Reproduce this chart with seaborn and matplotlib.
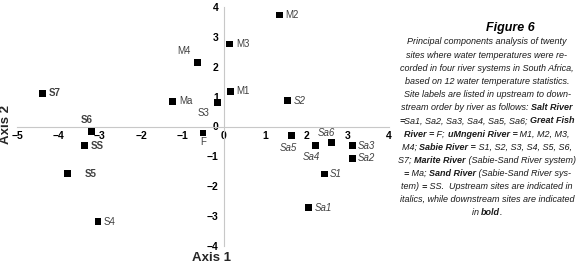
import matplotlib
matplotlib.use("Agg")
import matplotlib.pyplot as plt
import seaborn as sns
import pandas as pd
from matplotlib import font_manager as fm
from matplotlib.transforms import IdentityTransform

# ---------------- data ----------------
sites = ["M2", "M3", "M4", "M1", "S2", "S3", "Ma", "S7", "S6", "F", "SS", "S5", "S4",
         "Sa5", "Sa4", "Sa6", "Sa3", "Sa2", "S1", "Sa1"]
axis1 = [1.35, 0.15, -0.63, 0.17, 1.54, -0.15, -1.23, -4.39, -3.20, -0.50, -3.37, -3.78, -3.04,
         1.64, 2.22, 2.60, 3.11, 3.11, 2.43, 2.05]
axis2 = [3.73, 2.76, 2.15, 1.18, 0.87, 0.80, 0.84, 1.11, -0.17, -0.22, -0.64, -1.58, -3.19,
         -0.31, -0.64, -0.54, -0.64, -1.07, -1.59, -2.72]
# label style: 'n' normal, 'i' italic (upstream), 'b' bold (downstream)
label_style = ["n", "n", "n", "n", "i", "n", "n", "b", "b", "n", "b", "b", "n",
               "i", "i", "i", "i", "i", "i", "i"]
x_ticks = [-5, -4, -3, -2, -1, 0, 1, 2, 3, 4]
y_ticks = [-4, -3, -2, -1, 0, 1, 2, 3, 4]

caption_title = "Figure 6"
caption_lines = [
    [("Principal components analysis of twenty", 0)],
    [("sites where water temperatures were re-", 0)],
    [("corded in four river systems in South Africa,", 0)],
    [("based on 12 water temperature statistics.", 0)],
    [("Site labels are listed in upstream to down-", 0)],
    [("stream order by river as follows: ", 0), ("Salt River", 1)],
    [("=", 1), ("Sa1, Sa2, Sa3, Sa4, Sa5, Sa6; ", 0), ("Great Fish", 1)],
    [("River =", 1), (" F; ", 0), ("uMngeni River =", 1), (" M1, M2, M3,", 0)],
    [("M4; ", 0), ("Sabie River =", 1), (" S1, S2, S3, S4, S5, S6,", 0)],
    [("S7; ", 0), ("Marite River", 1), (" (Sabie-Sand River system)", 0)],
    [("=", 1), (" Ma; ", 0), ("Sand River", 1), (" (Sabie-Sand River sys-", 0)],
    [("tem) ", 0), ("=", 1), (" SS.  Upstream sites are indicated in", 0)],
    [("italics, while downstream sites are indicated", 0)],
    [("in ", 0), ("bold", 1), (".", 0)],
]

# label offsets in pixels (dx, dy, ha)
label_offsets = {
    "M4": (-14, 11, "center"), "S3": (-14, -10, "center"), "S6": (-5, 12, "center"),
    "F": (0, -9, "center"), "S5": (17, 0, "left"), "Sa5": (-3, -12, "center"),
    "Sa4": (-4, -11, "center"), "Sa6": (-5, 10, "center"),
}

# ---------------- figure ----------------
sns.set_theme(style="white")
names = {f.name for f in fm.fontManager.ttflist}
narrow = "Liberation Sans Narrow" if "Liberation Sans Narrow" in names else "Liberation Sans"
plt.rcParams["font.family"] = ["Liberation Sans", "DejaVu Sans"]

W, H = 580, 266
fig = plt.figure(figsize=(W / 100, H / 100), dpi=100)
ax = fig.add_axes([17 / W, 20 / H, 372 / W, 239 / H])

df = pd.DataFrame({"Axis 1": axis1, "Axis 2": axis2, "site": sites})
sns.scatterplot(data=df, x="Axis 1", y="Axis 2", marker="s", s=24, color="black",
                edgecolor="none", ax=ax, legend=False, zorder=3)

ax.set_xlim(-5, 4)
ax.set_ylim(-4, 4)
ax.set_xticks(x_ticks)
ax.set_yticks(y_ticks)
for sp in ["top", "right"]:
    ax.spines[sp].set_visible(False)
for sp in ["left", "bottom"]:
    ax.spines[sp].set_position(("data", 0))
    ax.spines[sp].set_color("#c8c8c8")
    ax.spines[sp].set_linewidth(0.8)
ax.tick_params(axis="both", length=2.5, width=0.8, color="#c8c8c8", direction="out",
               labelsize=7.5, pad=1.0, labelcolor="black")
for lab in ax.get_xticklabels() + ax.get_yticklabels():
    lab.set_fontweight("bold")
ax.set_xlabel("")
ax.set_ylabel("")
ax.patch.set_alpha(0)

for name, xv, yv, st in zip(sites, axis1, axis2, label_style):
    dx, dy, ha = label_offsets.get(name, (6, 0, "left"))
    kw = {}
    if st == "i":
        kw["style"] = "italic"
    elif st == "b":
        kw["weight"] = "bold"
    ax.annotate(name, (xv, yv), xytext=(dx, dy), textcoords="offset pixels",
                ha=ha, va="center", fontsize=7, color="#404040", **kw)

fig.text(212 / W, 1 - 258 / H, "Axis 1", fontsize=9.5, weight="bold", ha="center", va="center")
fig.text(6 / W, 1 - 124 / H, "Axis 2", fontsize=9.5, weight="bold", ha="center", va="center",
         rotation=90)

# caption
fig.text(510 / W, 1 - 28 / H, caption_title, fontsize=9, weight="bold", style="italic",
         ha="center", va="center", color="black")

renderer = fig.canvas.get_renderer()
cx = 487
y0 = 42
dy = 13.15
cap_family = [narrow, "Liberation Sans"]


def seg_width(s, bold, fs):
    w = []
    for txt in ("|" + s + "|", "||"):
        t = fig.text(0, 0, txt, fontsize=fs, style="italic", weight="bold" if bold else "normal",
                     family=cap_family)
        w.append(t.get_window_extent(renderer).width)
        t.remove()
    return w[0] - w[1]


# fit the caption size so the first line spans the same width as in the reference
fs = 8.0
fs = fs * 161.0 / seg_width(caption_lines[0][0][0], 0, fs)

for i, segs in enumerate(caption_lines):
    widths = [seg_width(s, b, fs) for s, b in segs]
    total = sum(widths)
    x = cx - total / 2
    ypix = H - (y0 + i * dy)
    for (s, b), w in zip(segs, widths):
        fig.text(x, ypix, s, fontsize=fs, style="italic", weight="bold" if b else "normal",
                 family=cap_family, ha="left", va="center",
                 color="#1a1a1a", transform=IdentityTransform())
        x += w

fig.savefig("out.png", dpi=100)
